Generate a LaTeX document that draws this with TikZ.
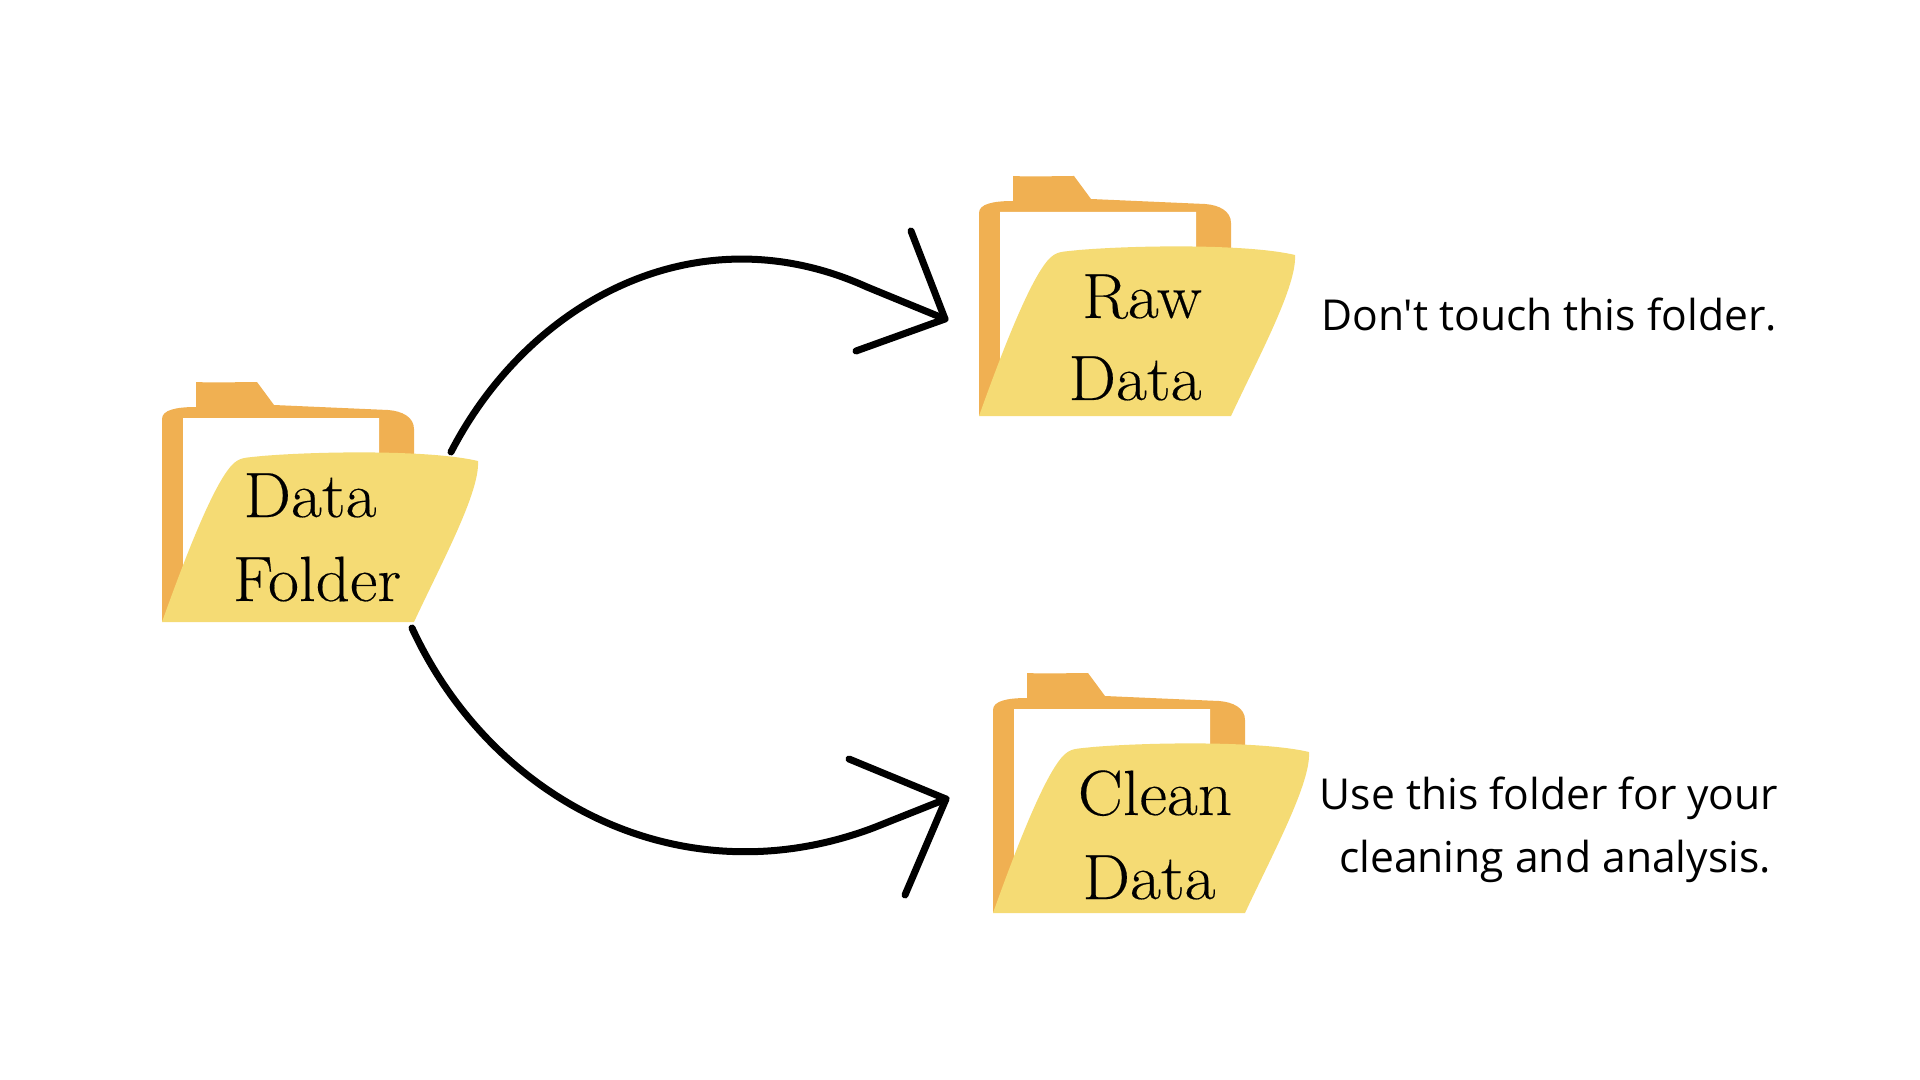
\documentclass[tikz,border=0pt]{standalone}
\usepackage{fontspec}
\newfontfamily\notefont{Open Sans}
\newfontfamily\labelfont[FakeStretch=1.05,FakeBold=0.25]{Latin Modern Roman}
\definecolor{tabcol}{HTML}{F0B052}
\definecolor{frontcol}{HTML}{F5DB74}
\tikzset{
  folderlabel/.style={anchor=base,inner sep=0pt,font=\labelfont\fontsize{32}{32}\selectfont},
  notelabel/.style={anchor=base,inner sep=0pt,font=\notefont\fontsize{21.3}{21.3}\selectfont},
  curvearrow/.style={line width=3.5pt,line cap=round,line join=round},
  folder/.pic={
    % back part with the tab
    \fill[tabcol] (0,-203) .. controls (0,-212) and (14,-215) .. (34,-215) -- (34,-240)
      .. controls (54,-239) and (75,-240) .. (95,-240) -- (112,-217) -- (226,-212)
      .. controls (240,-211) and (252,-205) .. (252,-193) -- (252,-150) -- (100,-150) -- (40,-80) -- (0,0) -- cycle;
    \fill[white] (21,-204) -- (217,-204) -- (217,-150) -- (100,-150) -- (40,-80) -- (21,-50) -- cycle;
    % front flap
    \fill[frontcol] (0,0) .. controls (25,-70) and (52,-138) .. (70,-157)
      .. controls (78,-165) and (82,-164) .. (100,-166)
      .. controls (160,-171) and (270,-172) .. (316,-161)
      .. controls (318,-130) and (280,-60) .. (252,0) -- cycle;
  }
}
\begin{document}
\begin{tikzpicture}[x=0.5pt,y=-0.5pt]
  \useasboundingbox (0,0) rectangle (1920,1080);
  \pic (dataF) at (162,622) {folder};
  \pic (rawF) at (979,416) {folder};
  \pic (cleanF) at (993,913) {folder};

  \node[folderlabel] (dataA) at (310,517) {Data};
  \node[folderlabel] (dataB) at (317,601) {Folder};
  \node[folderlabel] (rawA) at (1142,318) {Raw};
  \node[folderlabel] (rawB) at (1135,400) {Data};
  \node[folderlabel] (cleanA) at (1155,815) {Clean};
  \node[folderlabel] (cleanB) at (1149,899) {Data};

  \node[notelabel] (rawnote) at (1549,331) {Don't touch this folder.};
  \node[notelabel] (cleannoteA) at (1549,809) {Use this folder for your};
  \node[notelabel] (cleannoteB) at (1555,872) {cleaning and analysis.};

  \coordinate (upstart) at (451,452);
  \coordinate (upbend) at (867,287);
  \coordinate (uptip) at (945,319);
  \coordinate (uphead1) at (911,231);
  \coordinate (uphead2) at (856,351);
  \coordinate (downstart) at (412,628);
  \coordinate (downbend) at (873,828);
  \coordinate (downtip) at (946,799);
  \coordinate (downhead1) at (849,759);
  \coordinate (downhead2) at (905,895);

  \draw[curvearrow] (upstart) .. controls (529,301) and (697,210) .. (upbend) -- (uptip);
  \draw[curvearrow] (uphead1) -- (uptip) -- (uphead2);
  \draw[curvearrow] (downstart) .. controls (492,801) and (681,900) .. (downbend) -- (downtip);
  \draw[curvearrow] (downhead1) -- (downtip) -- (downhead2);
\end{tikzpicture}
\end{document}
